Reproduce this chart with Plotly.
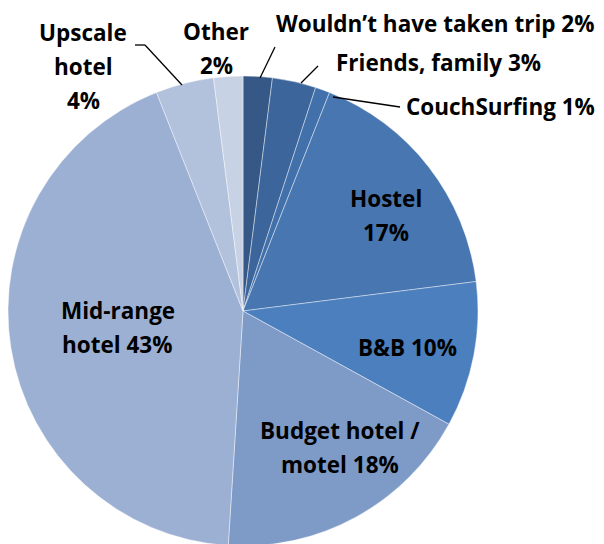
import plotly.graph_objects as go

W, H = 604, 544
PAGE_OFFSET = 8  # the page's default body margin shifts the figure by this many pixels

categories = ["Wouldn\u2019t have taken trip", "Friends, family", "CouchSurfing", "Hostel", "B&B",
              "Budget hotel / motel", "Mid-range hotel", "Upscale hotel", "Other"]
values = [2, 3, 1, 17, 10, 18, 43, 4, 2]
colors = ["#355886", "#3b659b", "#4170aa", "#4876b0", "#4c7fbe", "#7e9bc8", "#9cb0d4", "#b2c1dc", "#c8d2e5"]

# label text lines, anchor x (screen pixels), x anchor side and first-line centre y (screen pixels)
label_lines = {
    "Wouldn\u2019t have taken trip": (["Wouldn\u2019t have taken trip 2%"], 596, "right", 23),
    "Friends, family": (["Friends, family 3%"], 543, "right", 63),
    "CouchSurfing": (["CouchSurfing 1%"], 597, "right", 106),
    "Hostel": (["Hostel", "17%"], 386, "center", 198),
    "B&B": (["B&B 10%"], 407, "center", 347),
    "Budget hotel / motel": (["Budget hotel /", "motel 18%"], 340, "center", 430),
    "Mid-range hotel": (["Mid-range", "hotel 43%"], 118, "center", 310),
    "Upscale hotel": (["Upscale", "hotel", "4%"], 83, "center", 33),
    "Other": (["Other", "2%"], 216, "center", 32),
}
LINE_GAP = 34
FONT = "Open Sans"
FSIZE = 22.5

leaders = [
    [(260, 78), (275, 47)],
    [(301, 83), (318, 66)],
    [(333, 97), (400, 107)],
    [(182, 85), (145, 45), (135, 45)],
]


def px(x):
    return (x - PAGE_OFFSET) / W


def py(y):
    return 1 - (y - PAGE_OFFSET) / H


# pie: centre (243, 311), radius 235 in screen pixels
fig = go.Figure(go.Pie(
    labels=categories,
    values=values,
    sort=False,
    direction="clockwise",
    rotation=0,
    marker=dict(colors=colors, line=dict(color="rgba(255,255,255,0.7)", width=0.6)),
    textinfo="none",
    hoverinfo="label+percent",
    showlegend=False,
    domain=dict(x=[px(8), px(478)], y=[py(546), py(76)]),
))

annotations = []
for cat in categories:
    lines, ax, anchor, cy = label_lines[cat]
    for i, t in enumerate(lines):
        annotations.append(dict(
            x=px(ax), y=py(cy + i * LINE_GAP), xref="paper", yref="paper",
            text="<b>" + t + "</b>", showarrow=False, xanchor=anchor, yanchor="middle",
            font=dict(family=FONT, size=FSIZE, color="#000000"),
        ))

shapes = []
for pts in leaders:
    for (x0, y0), (x1, y1) in zip(pts[:-1], pts[1:]):
        shapes.append(dict(type="line", xref="paper", yref="paper",
                           x0=px(x0), y0=py(y0), x1=px(x1), y1=py(y1),
                           line=dict(color="#000000", width=1.3)))

fig.update_layout(
    width=W, height=H,
    margin=dict(l=0, r=0, t=0, b=0),
    paper_bgcolor="white", plot_bgcolor="white",
    annotations=annotations, shapes=shapes,
    font=dict(family=FONT),
)

fig.write_html("out.html")
